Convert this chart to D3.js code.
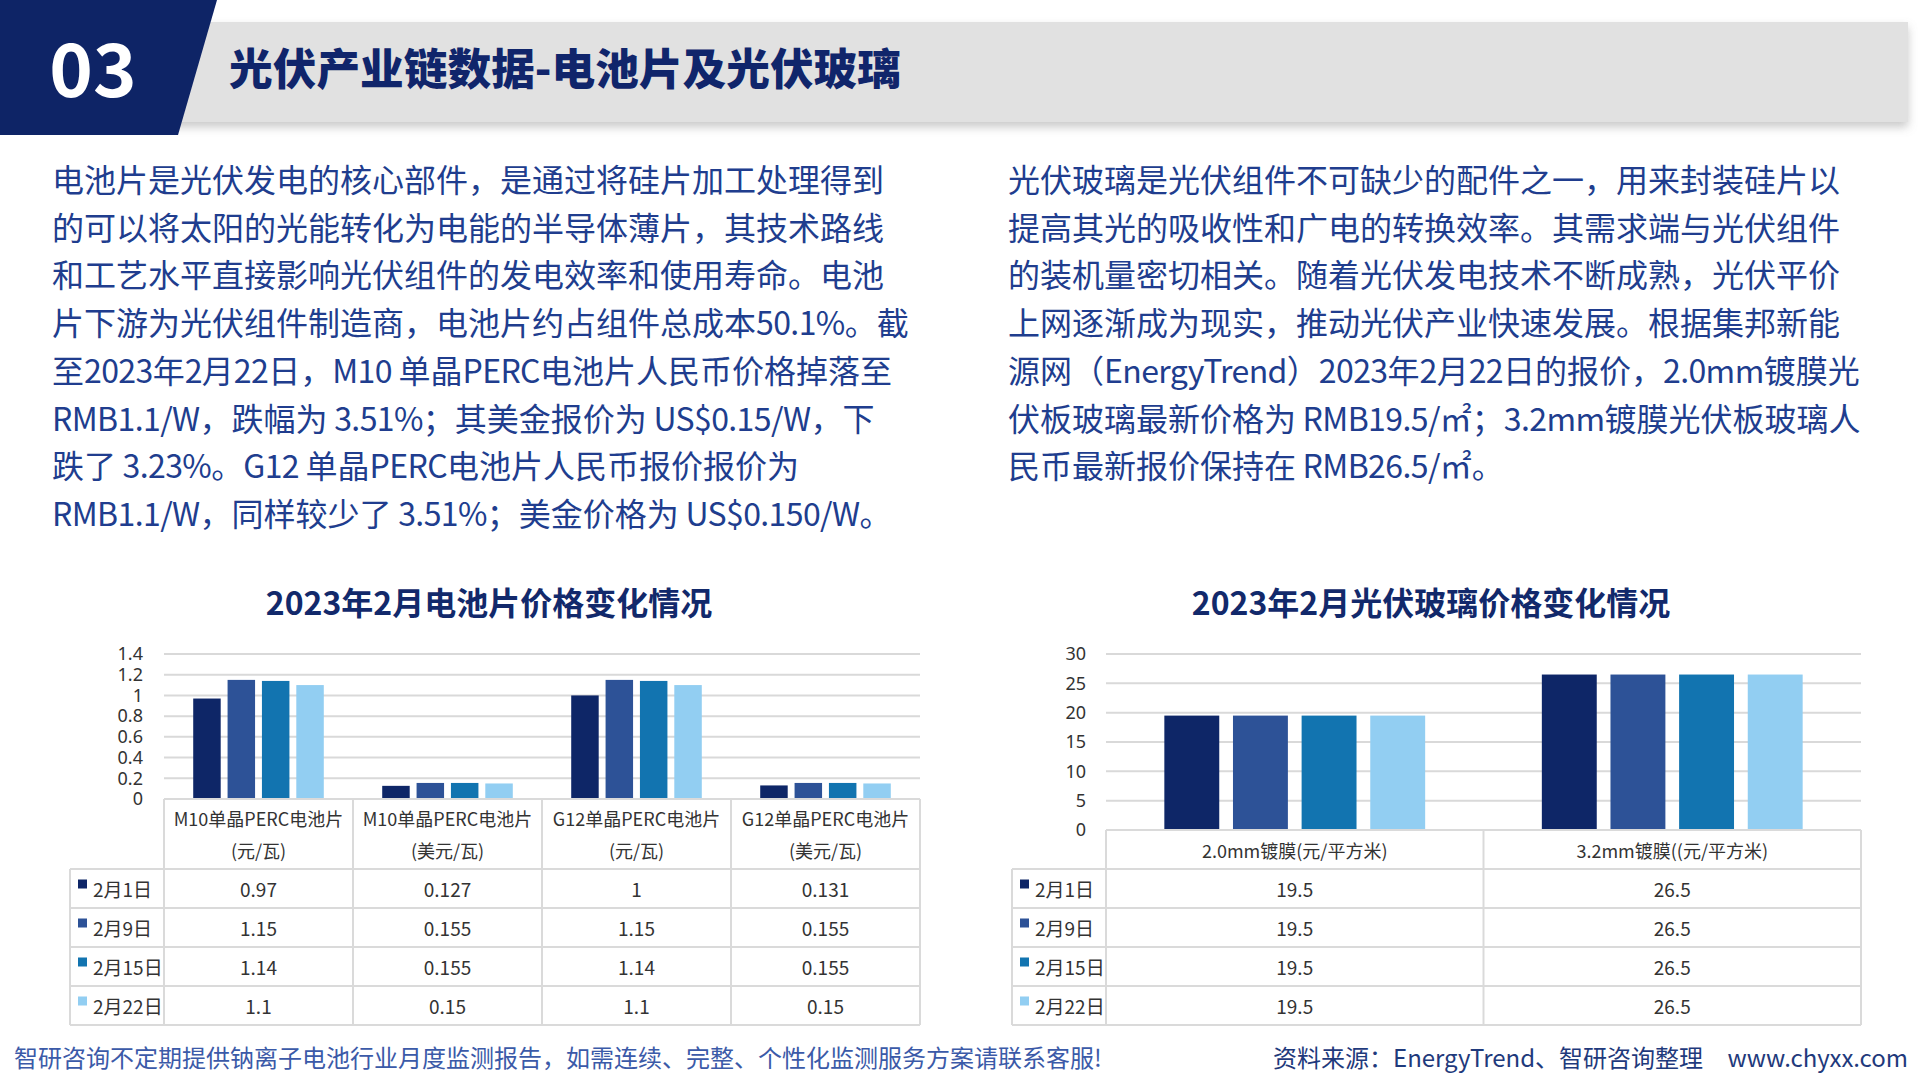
<!DOCTYPE html>
<html><head><meta charset="utf-8">
<script src="https://cdn.jsdelivr.net/npm/d3@7/dist/d3.min.js"></script>
<style>
body{margin:0;background:#fff;}
svg{display:block;}
</style>
</head><body>
<svg id="c" width="1920" height="1080"></svg>
<script>
// ---------- data ----------
const seriesNames = ["2月1日", "2月9日", "2月15日", "2月22日"];
const seriesColors = ["#0e2667", "#2d5297", "#1274b0", "#92cef2"];

const cellCategories = ["M10单晶PERC电池片", "M10单晶PERC电池片", "G12单晶PERC电池片", "G12单晶PERC电池片"];
const cellUnits = ["(元/瓦)", "(美元/瓦)", "(元/瓦)", "(美元/瓦)"];
const cellFeb1 = [0.97, 0.127, 1, 0.131];
const cellFeb9 = [1.15, 0.155, 1.15, 0.155];
const cellFeb15 = [1.14, 0.155, 1.14, 0.155];
const cellFeb22 = [1.1, 0.15, 1.1, 0.15];
const cellTicks = [0, 0.2, 0.4, 0.6, 0.8, 1, 1.2, 1.4];

const glassCategories = ["2.0mm镀膜(元/平方米)", "3.2mm镀膜((元/平方米)"];
const glassFeb1 = [19.5, 26.5];
const glassFeb9 = [19.5, 26.5];
const glassFeb15 = [19.5, 26.5];
const glassFeb22 = [19.5, 26.5];
const glassTicks = [0, 5, 10, 15, 20, 25, 30];

const headerNumber = "03";
const headerTitle = "光伏产业链数据-电池片及光伏玻璃";
const leftParagraph = [
  "电池片是光伏发电的核心部件，是通过将硅片加工处理得到",
  "的可以将太阳的光能转化为电能的半导体薄片，其技术路线",
  "和工艺水平直接影响光伏组件的发电效率和使用寿命。电池",
  "片下游为光伏组件制造商，电池片约占组件总成本50.1%。截",
  "至2023年2月22日，M10 单晶PERC电池片人民币价格掉落至",
  "RMB1.1/W，跌幅为 3.51%；其美金报价为 US$0.15/W，下",
  "跌了 3.23%。G12 单晶PERC电池片人民币报价报价为",
  "RMB1.1/W，同样较少了 3.51%；美金价格为 US$0.150/W。"
];
const rightParagraph = [
  "光伏玻璃是光伏组件不可缺少的配件之一，用来封装硅片以",
  "提高其光的吸收性和广电的转换效率。其需求端与光伏组件",
  "的装机量密切相关。随着光伏发电技术不断成熟，光伏平价",
  "上网逐渐成为现实，推动光伏产业快速发展。根据集邦新能",
  "源网（EnergyTrend）2023年2月22日的报价，2.0mm镀膜光",
  "伏板玻璃最新价格为 RMB19.5/㎡；3.2mm镀膜光伏板玻璃人",
  "民币最新报价保持在 RMB26.5/㎡。"
];
const cellTitle = "2023年2月电池片价格变化情况";
const glassTitle = "2023年2月光伏玻璃价格变化情况";
const footerLeft = "智研咨询不定期提供钠离子电池行业月度监测报告，如需连续、完整、个性化监测服务方案请联系客服!";
const footerSource = "资料来源：EnergyTrend、智研咨询整理";
const footerSite = "www.chyxx.com";

// ---------- drawing ----------
const svg = d3.select("#c");
const CJK = "'Noto Sans CJK SC','Noto Sans',sans-serif";
const NAVY = "#0e2466";

const defs = svg.append("defs");
const f = defs.append("filter").attr("id", "sh").attr("x", "-5%").attr("y", "-30%").attr("width", "110%").attr("height", "180%");
f.append("feDropShadow").attr("dx", 0).attr("dy", 5).attr("stdDeviation", 5).attr("flood-color", "#888").attr("flood-opacity", 0.45);

svg.append("rect").attr("width", 1920).attr("height", 1080).attr("fill", "#fff");

// header
svg.append("rect").attr("x", 150).attr("y", 22).attr("width", 1758).attr("height", 100)
  .attr("fill", "#e1e1e1").attr("filter", "url(#sh)");
svg.append("path").attr("d", "M0,0 L217,0 L178,135 L0,135 Z").attr("fill", NAVY);
svg.append("text").attr("x", 93).attr("y", 97).attr("text-anchor", "middle")
  .attr("font-family", CJK).attr("font-weight", 700).attr("font-size", 74)
  .attr("fill", "#fff").text(headerNumber);
svg.append("text").attr("x", 229).attr("y", 85)
  .attr("font-family", CJK).attr("font-weight", 900).attr("font-size", 43.7)
  .attr("fill", "#10256b").text(headerTitle);

// paragraphs (latin runs slightly tightened)
function para(lines, x) {
  const t = svg.append("g").selectAll("text").data(lines).join("text")
    .attr("x", x).attr("y", (d, i) => 192 + i * 47.7)
    .attr("font-family", CJK).attr("font-size", 32).attr("fill", "#203d8e");
  t.each(function (d) {
    const runs = d.match(/[\x20-\x7E]+|[^\x20-\x7E]+/g);
    const el = d3.select(this);
    runs.forEach(r => {
      const ts = el.append("tspan").text(r);
      if (/^[\x20-\x7E]+$/.test(r)) ts.attr("letter-spacing", -0.6);
    });
  });
}
para(leftParagraph, 52);
para(rightParagraph, 1008);

// chart
function drawChart(cfg) {
  const g = svg.append("g");
  const n = cfg.cats.length;
  const x0 = d3.scaleBand().domain(d3.range(n)).range([cfg.plotL, cfg.plotR]).padding(0);
  const x1 = d3.scaleBand().domain(seriesNames).range([0, x0.bandwidth()])
    .paddingInner(0.2).paddingOuter(0.85);
  const y = d3.scaleLinear().domain([0, d3.max(cfg.ticks)]).range([cfg.yBase, cfg.yTop]);

  // title
  g.append("text").attr("x", cfg.titleX).attr("y", 601).attr("text-anchor", "middle")
    .attr("dominant-baseline", "central")
    .attr("font-family", CJK).attr("font-weight", 700).attr("font-size", 32)
    .attr("fill", "#12296b").text(cfg.title);

  // gridlines
  g.append("g").selectAll("line").data(cfg.ticks).join("line")
    .attr("x1", cfg.plotL).attr("x2", cfg.plotR)
    .attr("y1", d => y(d)).attr("y2", d => y(d))
    .attr("stroke", "#d9d9d9").attr("stroke-width", 2);

  // y axis labels
  const ax = g.append("g").attr("transform", `translate(${cfg.plotL},0)`)
    .call(d3.axisLeft(y).tickValues(cfg.ticks).tickSize(0).tickPadding(cfg.tickPad).tickFormat(d3.format("~g")));
  ax.select(".domain").remove();
  ax.selectAll("text").attr("font-family", "'Noto Sans',sans-serif").attr("font-size", 18).attr("fill", "#333");

  // bars
  cfg.values.forEach((vals, si) => {
    g.append("g").selectAll("rect").data(vals).join("rect")
      .attr("x", (d, i) => x0(i) + x1(seriesNames[si]))
      .attr("y", d => y(d))
      .attr("width", x1.bandwidth())
      .attr("height", d => cfg.yBase - y(d))
      .attr("fill", seriesColors[si]);
  });

  // table lines
  const rowEdges = cfg.rowEdges;
  const tBottom = rowEdges[rowEdges.length - 1];
  const lc = "#dadada";
  g.append("line").attr("x1", cfg.plotL).attr("x2", cfg.plotR).attr("y1", cfg.yBase).attr("y2", cfg.yBase)
    .attr("stroke", lc).attr("stroke-width", 2);
  g.append("g").selectAll("line").data(rowEdges).join("line")
    .attr("x1", cfg.tableL).attr("x2", cfg.plotR)
    .attr("y1", d => d).attr("y2", d => d)
    .attr("stroke", lc).attr("stroke-width", 2);
  const vx = d3.range(n).map(i => x0(i)).concat([cfg.plotR]);
  g.append("g").selectAll("line").data(vx).join("line")
    .attr("x1", d => d).attr("x2", d => d).attr("y1", cfg.yBase).attr("y2", tBottom)
    .attr("stroke", lc).attr("stroke-width", 2);
  g.append("line").attr("x1", cfg.tableL).attr("x2", cfg.tableL).attr("y1", rowEdges[0]).attr("y2", tBottom)
    .attr("stroke", lc).attr("stroke-width", 2);

  // category labels
  cfg.cats.forEach((c, i) => {
    const cx = x0(i) + x0.bandwidth() / 2;
    if (cfg.units) {
      g.append("text").attr("x", cx).attr("y", cfg.yBase + 19).attr("text-anchor", "middle")
        .attr("dominant-baseline", "central").attr("font-family", CJK).attr("font-size", 18)
        .attr("fill", "#333").text(c);
      g.append("text").attr("x", cx).attr("y", cfg.yBase + 51).attr("text-anchor", "middle")
        .attr("dominant-baseline", "central").attr("font-family", CJK).attr("font-size", 18)
        .attr("fill", "#333").text(cfg.units[i]);
    } else {
      g.append("text").attr("x", cx).attr("y", (cfg.yBase + rowEdges[0]) / 2).attr("text-anchor", "middle")
        .attr("dominant-baseline", "central").attr("font-family", CJK).attr("font-size", 18)
        .attr("fill", "#333").text(c);
    }
  });

  // rows
  seriesNames.forEach((s, si) => {
    const cy = (rowEdges[si] + rowEdges[si + 1]) / 2;
    g.append("rect").attr("x", cfg.tableL + 8).attr("y", cy - 9).attr("width", 9).attr("height", 9)
      .attr("fill", seriesColors[si]);
    g.append("text").attr("x", cfg.tableL + 23).attr("y", cy).attr("dominant-baseline", "central")
      .attr("font-family", CJK).attr("font-size", 19).attr("fill", "#333").text(s);
    cfg.values[si].forEach((v, i) => {
      g.append("text").attr("x", x0(i) + x0.bandwidth() / 2).attr("y", cy)
        .attr("text-anchor", "middle").attr("dominant-baseline", "central")
        .attr("font-family", CJK).attr("font-size", 19).attr("fill", "#333").text(String(v));
    });
  });
}

const rows = [869, 908, 947, 986, 1025];
drawChart({
  title: cellTitle, titleX: 489,
  cats: cellCategories, units: cellUnits,
  values: [cellFeb1, cellFeb9, cellFeb15, cellFeb22],
  ticks: cellTicks, plotL: 164, plotR: 920, yTop: 654, yBase: 799,
  tickPad: 21, tableL: 70, rowEdges: rows
});
drawChart({
  title: glassTitle, titleX: 1431,
  cats: glassCategories, units: null,
  values: [glassFeb1, glassFeb9, glassFeb15, glassFeb22],
  ticks: glassTicks, plotL: 1106, plotR: 1861, yTop: 654, yBase: 830,
  tickPad: 20, tableL: 1012, rowEdges: rows
});

// footer
svg.append("text").attr("x", 14).attr("y", 1056).attr("dominant-baseline", "central")
  .attr("font-family", CJK).attr("font-size", 24).attr("fill", "#3b5aa8").text(footerLeft);
svg.append("text").attr("x", 1273).attr("y", 1056).attr("dominant-baseline", "central")
  .attr("font-family", CJK).attr("font-size", 24).attr("fill", "#1f3a7c").text(footerSource);
svg.append("text").attr("x", 1908).attr("y", 1056).attr("text-anchor", "end").attr("dominant-baseline", "central")
  .attr("font-family", CJK).attr("font-size", 24).attr("fill", "#1f3a7c").text(footerSite);
</script>
</body></html>
